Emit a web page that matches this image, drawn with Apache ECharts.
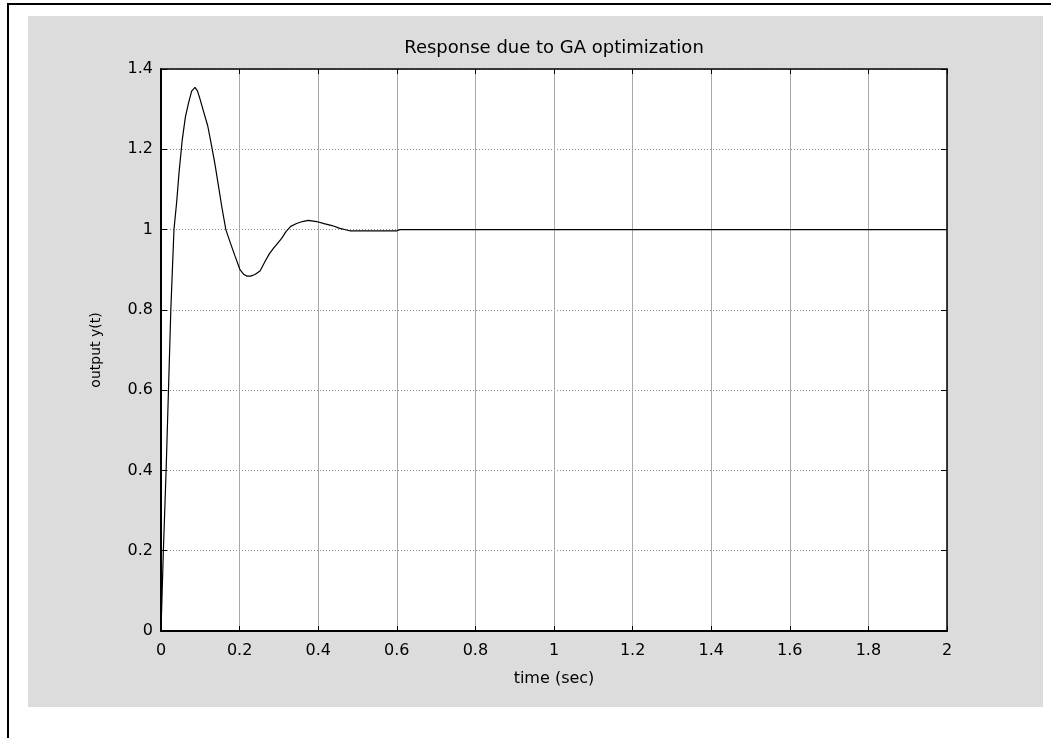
<!DOCTYPE html>
<html>
<head>
<meta charset="utf-8">
<title>Response due to GA optimization</title>
<script src="https://cdn.jsdelivr.net/npm/echarts@6/dist/echarts.min.js"></script>
<style>
    html, body { margin: 0; padding: 0; background: #fff; }
    #main { width: 1051px; height: 738px; }
</style>
</head>
<body>
<div id="main"></div>
<script>
// 读图得到的阶跃响应数据 (time in sec, output y(t))
const timeSec = [0, 0.006, 0.013, 0.019, 0.025, 0.033, 0.04, 0.046, 0.054, 0.062,
    0.07, 0.078, 0.0865, 0.093, 0.099, 0.108, 0.119, 0.128, 0.137, 0.146,
    0.155, 0.165, 0.176, 0.188, 0.201, 0.211, 0.219, 0.228, 0.239, 0.252,
    0.265, 0.276, 0.286, 0.296, 0.307, 0.318, 0.33, 0.345, 0.36, 0.375,
    0.396, 0.415, 0.435, 0.455, 0.48, 0.6, 0.608, 2];
const outputY = [0, 0.2, 0.4, 0.6, 0.8, 1.0, 1.07, 1.143, 1.223, 1.28,
    1.315, 1.345, 1.354, 1.345, 1.326, 1.295, 1.258, 1.212, 1.165, 1.11,
    1.055, 1.0, 0.968, 0.935, 0.9, 0.888, 0.884, 0.884, 0.888, 0.897,
    0.921, 0.94, 0.953, 0.965, 0.978, 0.995, 1.008, 1.015, 1.02, 1.023,
    1.02, 1.015, 1.01, 1.003, 0.997, 0.997, 1.0, 1.0];

// 坐标轴范围 [min, max, interval]
const xRange = [0, 2, 0.2];
const yRange = [0, 1.4, 0.2];

const font = "DejaVu Sans";

let chart = echarts.init(document.getElementById("main"), null, { renderer: "canvas" });

// 上/右两条框线, 只画刻度
function boxAxis(range, pos, isX) {
    return {
        type: "value",
        position: pos,
        min: range[0],
        max: range[1],
        interval: range[2],
        axisLine: { show: true, onZero: false, lineStyle: { color: "#000", width: 1.5 } },
        axisTick: { show: true, inside: true, length: isX ? 5 : 6, lineStyle: { color: "#000", width: 1 } },
        axisLabel: { show: false },
        splitLine: { show: false },
    };
}

let option = {
    backgroundColor: "#fff",
    animation: false,
    title: {
        text: "Response due to GA optimization",
        left: 554,
        top: 39,
        padding: 0,
        textAlign: "center",
        textStyle: { fontFamily: font, fontSize: 18, fontWeight: "normal", color: "#000" },
    },
    graphic: [
        // 外框线 (top / left)
        { type: "rect", shape: { x: 7, y: 3, width: 1044, height: 2 }, style: { fill: "#000" }, z: -10 },
        { type: "rect", shape: { x: 7, y: 3, width: 2, height: 735 }, style: { fill: "#000" }, z: -10 },
        // 灰色 figure 背景
        { type: "rect", shape: { x: 28, y: 16, width: 1015, height: 691 }, style: { fill: "#dcdcdc" }, z: -10 },
    ],
    grid: {
        left: 161,
        top: 69,
        width: 786,
        height: 562,
        show: true,
        backgroundColor: "#fff",
        borderWidth: 0,
    },
    xAxis: [
        {
            type: "value",
            position: "bottom",
            min: xRange[0],
            max: xRange[1],
            interval: xRange[2],
            name: "time (sec)",
            nameLocation: "middle",
            nameGap: 40,
            nameTextStyle: { fontFamily: font, fontSize: 16, color: "#000" },
            axisLine: { show: true, onZero: false, lineStyle: { color: "#000", width: 2 } },
            axisTick: { show: true, inside: true, length: 5, lineStyle: { color: "#000" } },
            axisLabel: { fontFamily: font, fontSize: 16, color: "#000", margin: 12 },
            splitLine: { show: true, lineStyle: { color: "#a8a8a8", width: 1, type: "solid" } },
        },
        boxAxis(xRange, "top", true),
    ],
    yAxis: [
        {
            type: "value",
            position: "left",
            min: yRange[0],
            max: yRange[1],
            interval: yRange[2],
            name: "output y(t)",
            nameLocation: "middle",
            nameGap: 58,
            nameTextStyle: { fontFamily: font, fontSize: 14, color: "#000" },
            axisLine: { show: true, onZero: false, lineStyle: { color: "#000", width: 2 } },
            axisTick: { show: true, inside: true, length: 6, lineStyle: { color: "#000" } },
            axisLabel: { fontFamily: font, fontSize: 16, color: "#000", margin: 8 },
            splitLine: { show: true, lineStyle: { color: "#8c8c8c", width: 1, type: [1, 2] } },
        },
        boxAxis(yRange, "right", false),
    ],
    series: [
        {
            name: "y(t)",
            type: "line",
            xAxisIndex: 0,
            yAxisIndex: 0,
            showSymbol: false,
            smooth: false,
            lineStyle: { color: "#000", width: 1.2 },
            data: timeSec.map((t, i) => [t, outputY[i]]),
        },
    ],
};

chart.setOption(option);
</script>
</body>
</html>
